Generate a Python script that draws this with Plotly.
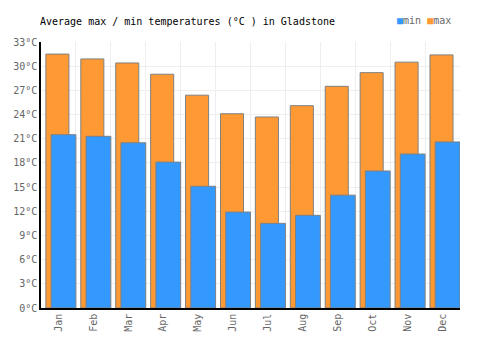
import plotly.graph_objects as go

months = ["Jan", "Feb", "Mar", "Apr", "May", "Jun", "Jul", "Aug", "Sep", "Oct", "Nov", "Dec"]
max_temps = [31.5, 30.9, 30.4, 29.0, 26.4, 24.1, 23.7, 25.1, 27.5, 29.2, 30.5, 31.4]
min_temps = [21.5, 21.3, 20.5, 18.1, 15.1, 11.9, 10.5, 11.5, 14.0, 17.0, 19.1, 20.6]
y_ticks = list(range(0, 34, 3))
y_labels = [f"{v}°C" for v in y_ticks]

font = "DejaVu Sans Mono"
MAX_C = "#ff9933"
MIN_C = "#3399ff"

fig = go.Figure()
fig.add_trace(go.Bar(
    x=months, y=max_temps, name="max",
    marker=dict(color=MAX_C, line=dict(color="#808080", width=1)),
    width=0.66, offset=-0.36, showlegend=False,
))
fig.add_trace(go.Bar(
    x=months, y=min_temps, name="min",
    marker=dict(color=MIN_C, line=dict(color="#808080", width=1)),
    width=0.71, offset=-0.21, showlegend=False,
))

legend_text = (f"<span style='color:{MIN_C}'>■</span>min "
               f"<span style='color:{MAX_C}'>■</span>max")

fig.update_layout(
    width=500, height=350,
    margin=dict(l=41, r=40, t=42, b=42),
    barmode="overlay",
    plot_bgcolor="white", paper_bgcolor="white",
    font=dict(family=font, size=10, color="#666666"),
    title=dict(text="Average max / min temperatures (°C ) in Gladstone",
               x=40/500, xanchor="left", y=1-21/350, yanchor="middle",
               font=dict(family=font, size=10, color="black")),
    annotations=[dict(text=legend_text, xref="paper", yref="paper",
                      x=(453-41)/419, xanchor="right", y=(308-21)/266, yanchor="middle",
                      showarrow=False, font=dict(family=font, size=10, color="#666666"))],
    showlegend=False,
)
fig.update_xaxes(
    type="category", tickson="boundaries", showgrid=True, gridcolor="#eeeeee",
    showline=True, linecolor="black", linewidth=1.5,
    tickangle=-90, ticks="", range=[-0.5, 11.5],
    tickfont=dict(family=font, size=10, color="#666666"),
)
fig.update_yaxes(
    range=[0, 33], tickvals=y_ticks, ticktext=y_labels,
    showgrid=True, gridcolor="#eeeeee", zeroline=False,
    showline=True, linecolor="black", linewidth=1.5, ticks="",
    tickfont=dict(family=font, size=10, color="#666666"),
)

fig.write_html("out.html")
